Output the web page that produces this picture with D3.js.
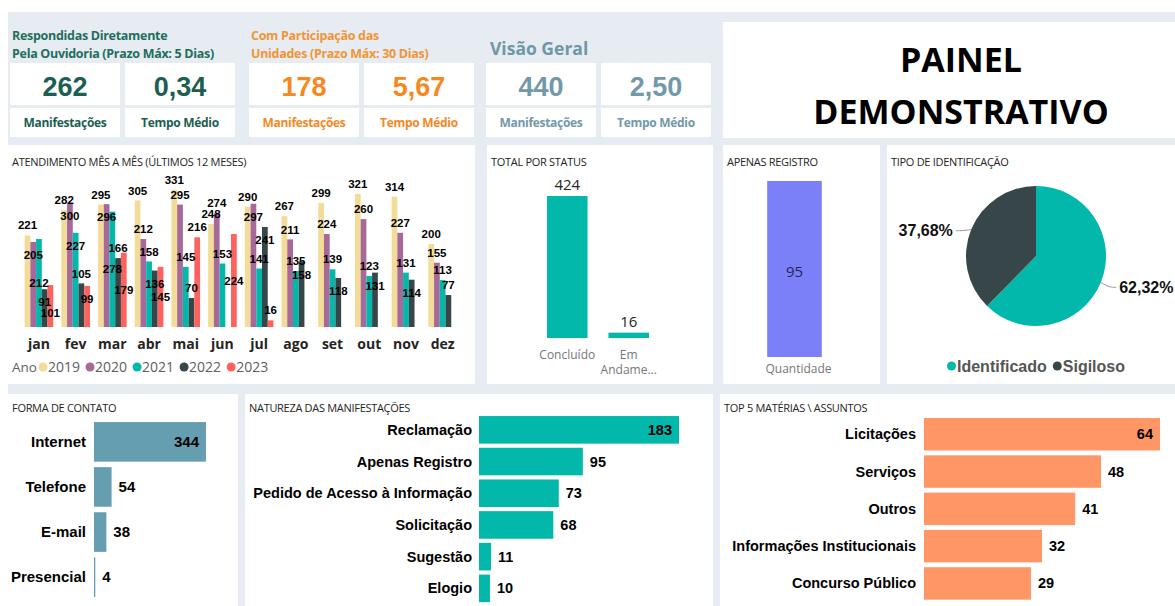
<!DOCTYPE html>
<html><head><meta charset="utf-8">
<script src="https://cdn.jsdelivr.net/npm/d3@7"></script>
<style>
html,body{margin:0;padding:0;background:#fff;overflow:hidden}
svg{display:block}
</style></head><body>
<svg id="c" width="1175" height="606" font-family="'Open Sans', sans-serif"></svg>
<script>
// ---------------- DATA ----------------
const kpiTitles = [["Respondidas Diretamente","Pela Ouvidoria (Prazo Máx: 5 Dias)"],["Com Participação das","Unidades (Prazo Máx: 30 Dias)"],["Visão Geral"]];
const kpiManifestacoes = ["262","178","440"];
const kpiTempoMedio = ["0,34","5,67","2,50"];
const kpiLabels = ["Manifestações","Tempo Médio"];
const dashTitle = ["PAINEL","DEMONSTRATIVO"];

const months = ["jan","fev","mar","abr","mai","jun","jul","ago","set","out","nov","dez"];
const years = ["2019","2020","2021","2022","2023"];
const v2019 = [221,282,295,305,331,248,290,267,299,321,314,200];
const v2020 = [205,300,296,212,295,274,297,211,224,260,227,155];
const v2021 = [212,227,278,158,145,153,141,135,139,123,131,113];
const v2022 = [91,105,166,136,70,null,241,158,118,131,114,77];
const v2023 = [101,99,179,145,216,224,16,null,null,null,null,null];

const statusCats = ["Concluído","Em Andame..."];
const statusVals = [424,16];

const registroCats = ["Quantidade"];
const registroVals = [95];

const identCats = ["Identificado","Sigiloso"];
const identVals = [62.32,37.68];
const identLabels = ["62,32%","37,68%"];

const contatoCats = ["Internet","Telefone","E-mail","Presencial"];
const contatoVals = [344,54,38,4];

const naturezaCats = ["Reclamação","Apenas Registro","Pedido de Acesso à Informação","Solicitação","Sugestão","Elogio"];
const naturezaVals = [183,95,73,68,11,10];

const topCats = ["Licitações","Serviços","Outros","Informações Institucionais","Concurso Público"];
const topVals = [64,48,41,32,29];

const panelTitles = ["ATENDIMENTO MÊS A MÊS (ÚLTIMOS 12 MESES)","TOTAL POR STATUS","APENAS REGISTRO","TIPO DE IDENTIFICAÇÃO","FORMA DE CONTATO","NATUREZA DAS MANIFESTAÇÕES","TOP 5 MATÉRIAS \\ ASSUNTOS"];

// ---------------- DRAW ----------------
const svg = d3.select("#c");
const BG = "#e6ecf2";
const ARIAL = "'Liberation Sans', Arial, sans-serif";
svg.append("rect").attr("width",1175).attr("height",606).attr("fill","#fff");
svg.append("rect").attr("x",8).attr("y",12).attr("width",1167).attr("height",594).attr("fill",BG);

const panels = [
  {x:723,y:22,w:452,h:116},
  {x:8,y:145,w:467,h:239,t:0},
  {x:487,y:145,w:226,h:239,t:1},
  {x:723,y:145,w:157,h:239,t:2},
  {x:887,y:145,w:288,h:239,t:3},
  {x:8,y:394,w:230,h:212,t:4},
  {x:245,y:394,w:468,h:212,t:5},
  {x:720,y:394,w:455,h:212,t:6}
];
panels.forEach(p=>{
  svg.append("rect").attr("x",p.x).attr("y",p.y).attr("width",p.w).attr("height",p.h).attr("fill","#fff");
  if(p.t!==undefined){
    svg.append("text").attr("x",p.x+4).attr("y",p.y+ (p.y<300?21:18)).text(panelTitles[p.t])
      .attr("font-size",11).attr("fill","#252423").attr("letter-spacing","-0.3");
  }
});

// KPI area
const secX = [10,249,486];
const titleCol = ["#1f6e5d","#f29535","#6f98a7"];
const numCol = ["#1b5e52","#f5881f","#7199a8"];
secX.forEach((sx,i)=>{
  const t = kpiTitles[i];
  if(t.length===2){
    t.forEach((line,j)=>svg.append("text").attr("x",sx+2).attr("y",40+j*18).text(line)
      .attr("font-size",12.5).attr("font-weight",700).attr("fill",titleCol[i]).attr("letter-spacing","-0.3"));
  } else {
    svg.append("text").attr("x",sx+4).attr("y",55).text(t[0]).attr("font-size",17.5).attr("font-weight",700).attr("fill",titleCol[i]);
  }
  [kpiManifestacoes[i],kpiTempoMedio[i]].forEach((val,j)=>{
    const bx = sx + j*115, bw = 110;
    svg.append("rect").attr("x",bx).attr("y",63).attr("width",bw).attr("height",42).attr("fill","#fff");
    svg.append("rect").attr("x",bx).attr("y",108).attr("width",bw).attr("height",29).attr("fill","#fff");
    svg.append("text").attr("x",bx+bw/2).attr("y",96).attr("text-anchor","middle").text(val)
      .attr("font-family",ARIAL).attr("font-weight",700).attr("font-size",27).attr("fill",numCol[i]);
    svg.append("text").attr("x",bx+bw/2).attr("y",127).attr("text-anchor","middle").text(kpiLabels[j])
      .attr("font-size",12).attr("font-weight",700).attr("fill",numCol[i]).attr("letter-spacing","-0.3");
  });
});

// dashboard title
dashTitle.forEach((s,i)=>svg.append("text").attr("x",961).attr("y",72+i*52).attr("text-anchor","middle")
  .text(s).attr("font-size",34).attr("font-weight",700).attr("fill","#000"));

// ---- Monthly chart ----
const yearColors = ["#f3dc97","#a66999","#01b8aa","#374649","#fd625e"];
const seriesVals = [v2019,v2020,v2021,v2022,v2023];
const x0 = d3.scaleBand().domain(months).range([20.6,461]).paddingInner(0.22).paddingOuter(0.11);
const x1 = d3.scaleBand().domain(years).range([0,x0.bandwidth()]);
const yA = d3.scaleLinear().domain([0,340]).range([327,185.9]);
const gA = svg.append("g");
years.forEach((yr,si)=>{
  gA.selectAll(null).data(months.map((m,i)=>({m,v:seriesVals[si][i]})).filter(d=>d.v!=null)).join("rect")
    .attr("x",d=>x0(d.m)+x1(yr)).attr("width",x1.bandwidth())
    .attr("y",d=>yA(d.v)).attr("height",d=>yA(0)-yA(d.v)).attr("fill",yearColors[si]);
});
// data labels with collision avoidance (above -> inside end -> inside center -> push down)
const placed = [];
const LH = 10.5;
const hits = (cx,cy,w)=>placed.filter(p=>Math.abs(p.cx-cx)<(p.w+w)/2 && Math.abs(p.cy-cy)<LH);
years.forEach((yr,si)=>months.forEach((m,i)=>{
  const v = seriesVals[si][i]; if(v==null) return;
  const cx = x0(m)+x1(yr)+x1.bandwidth()/2;
  const top = yA(v), base = yA(0);
  const w = String(v).length*6.4+1;
  const cands = [top-10];
  if(base-top>14){ cands.push(top+13, (top+base)/2); }
  let cy = cands.find(c=>hits(cx,c,w).length===0);
  if(cy===undefined){
    cy = cands[cands.length-1]; let g=0;
    while(hits(cx,cy,w).length && g++<20){ cy = d3.max(hits(cx,cy,w),p=>p.cy)+LH; }
  }
  placed.push({cx,cy,w,v});
}));
gA.selectAll(null).data(placed).join("text").attr("x",d=>d.cx).attr("y",d=>d.cy+4.1)
  .attr("text-anchor","middle").text(d=>d.v).attr("font-family",ARIAL).attr("font-weight",700)
  .attr("font-size",11.5).attr("fill","#000");
// month axis labels
gA.selectAll(null).data(months).join("text").attr("x",m=>x0(m)+x0.bandwidth()/2).attr("y",349)
  .attr("text-anchor","middle").text(m=>m).attr("font-size",14).attr("font-weight",700).attr("fill","#252423");
// legend
const lg = svg.append("g");
lg.append("text").attr("x",12).attr("y",372).text("Ano").attr("font-size",13.5).attr("fill","#605e5c");
let lx = 43;
years.forEach((yr,si)=>{
  lg.append("circle").attr("cx",lx).attr("cy",367).attr("r",4.5).attr("fill",yearColors[si]);
  const t = lg.append("text").attr("x",lx+5).attr("y",372).text(yr).attr("font-size",14).attr("fill","#605e5c");
  lx += 5 + t.node().getComputedTextLength() + 10;
});

// ---- Status ----
const xB = d3.scaleBand().domain(statusCats).range([516.25,679.75]).paddingInner(0.34).paddingOuter(0.5);
const yB = d3.scaleLinear().domain([0,424]).range([338,196]);
const gB = svg.append("g");
gB.selectAll(null).data(statusCats).join("rect").attr("x",c=>xB(c)).attr("width",xB.bandwidth())
  .attr("y",(c,i)=>yB(statusVals[i])).attr("height",(c,i)=>yB(0)-yB(statusVals[i])).attr("fill","#01b8aa");
gB.selectAll(null).data(statusCats).join("text").attr("x",c=>xB(c)+xB.bandwidth()/2)
  .attr("y",(c,i)=>yB(statusVals[i])-6).attr("text-anchor","middle").text((c,i)=>statusVals[i])
  .attr("font-size",15).attr("fill","#252423");
statusCats.forEach(c=>{
  const parts = c==="Em Andame..." ? ["Em","Andame..."] : [c];
  parts.forEach((s,j)=>gB.append("text").attr("x",xB(c)+xB.bandwidth()/2).attr("y",359+j*15)
    .attr("text-anchor","middle").text(s).attr("font-size",12).attr("fill","#777"));
});

// ---- Apenas Registro ----
const xC = d3.scaleBand().domain(registroCats).range([742,847]).paddingInner(0.48).paddingOuter(0.24);
const yC = d3.scaleLinear().domain([0,95]).range([357,181]);
const gC = svg.append("g");
gC.selectAll(null).data(registroCats).join("rect").attr("x",c=>xC(c)).attr("width",xC.bandwidth())
  .attr("y",(c,i)=>yC(registroVals[i])).attr("height",(c,i)=>yC(0)-yC(registroVals[i])).attr("fill","#7b80f8");
gC.selectAll(null).data(registroCats).join("text").attr("x",c=>xC(c)+xC.bandwidth()/2)
  .attr("y",(c,i)=>(yC(registroVals[i])+yC(0))/2+8).attr("text-anchor","middle").text((c,i)=>registroVals[i])
  .attr("font-size",15).attr("fill","#1f2655");
gC.selectAll(null).data(registroCats).join("text").attr("x",c=>xC(c)+xC.bandwidth()/2+4).attr("y",373)
  .attr("text-anchor","middle").text(c=>c).attr("font-size",12).attr("fill","#777");

// ---- Pie ----
const cxP = 1036, cyP = 256, rP = 70;
const pie = d3.pie().sort(null).value(d=>d)(identVals);
const arc = d3.arc().innerRadius(0).outerRadius(rP);
const pieCols = ["#01b8aa","#374649"];
const gD = svg.append("g").attr("transform",`translate(${cxP},${cyP})`);
gD.selectAll(null).data(pie).join("path").attr("d",arc).attr("fill",(d,i)=>pieCols[i]);
pie.forEach((d,i)=>{
  const a = (d.startAngle+d.endAngle)/2;
  const p0 = [Math.sin(a)*rP, -Math.cos(a)*rP];
  const p1 = [Math.sin(a)*(rP+9), -Math.cos(a)*(rP+5)+3];
  const right = Math.sin(a)>0;
  const p2 = [p1[0]+(right?7:-7), p1[1]];
  gD.append("path").attr("d",d3.line().curve(d3.curveBasis)([p0,p1,p2])).attr("fill","none").attr("stroke","#999").attr("stroke-width",1);
  gD.append("text").attr("x",p2[0]+(right?3:-3)).attr("y",p2[1]+5.5).attr("text-anchor",right?"start":"end")
    .text(identLabels[i]).attr("font-family",ARIAL).attr("font-weight",700).attr("font-size",16).attr("fill","#111");
});
const lgD = svg.append("g");
let dx = 0;
identCats.forEach((c,i)=>{
  lgD.append("circle").attr("cx",dx+4.5).attr("cy",366).attr("r",4.5).attr("fill",pieCols[i]);
  const t = lgD.append("text").attr("x",dx+10).attr("y",371.5).text(c).attr("font-family",ARIAL)
    .attr("font-weight",700).attr("font-size",16).attr("fill","#555");
  dx += 10 + t.node().getComputedTextLength() + 6;
});
lgD.attr("transform",`translate(${1036 - (dx-6)/2},0)`);

// ---- Horizontal bar charts ----
function hbar(cats, vals, yRange, pad, xRange, color, labelRight, fs){
  const y = d3.scaleBand().domain(cats).range(yRange).paddingInner(pad).paddingOuter(pad/2);
  const x = d3.scaleLinear().domain([0,d3.max(vals)]).range(xRange);
  const g = svg.append("g");
  g.selectAll(null).data(cats).join("rect").attr("x",x(0)).attr("y",c=>y(c))
    .attr("width",(c,i)=>Math.max(1,x(vals[i])-x(0))).attr("height",y.bandwidth()).attr("fill",color);
  g.selectAll(null).data(cats).join("text").attr("x",labelRight).attr("y",c=>y(c)+y.bandwidth()/2+5)
    .attr("text-anchor","end").text(c=>c).attr("font-family",ARIAL).attr("font-weight",700)
    .attr("font-size",fs).attr("fill","#000");
  const plotRight = xRange[1]+8;
  cats.forEach((c,i)=>{
    const s = String(vals[i]);
    const w = s.length*fs*0.556;
    const outX = x(vals[i])+7;
    const inside = outX + w > plotRight;
    g.append("text").attr("x",inside? x(vals[i])-7 : outX).attr("y",y(c)+y.bandwidth()/2+5)
      .attr("text-anchor",inside?"end":"start").text(s).attr("font-family",ARIAL).attr("font-weight",700)
      .attr("font-size",fs).attr("fill","#000");
  });
}
hbar(contatoCats, contatoVals, [419.3,599.7], 0.122, [94,206], "#669eb1", 86, 15);
hbar(naturezaCats, naturezaVals, [414,604.2], 0.13, [479,679], "#01b8aa", 472, 14.5);
hbar(topCats, topVals, [415.6,602.1], 0.13, [924,1160], "#fe9666", 916, 14.5);
</script>
</body></html>
